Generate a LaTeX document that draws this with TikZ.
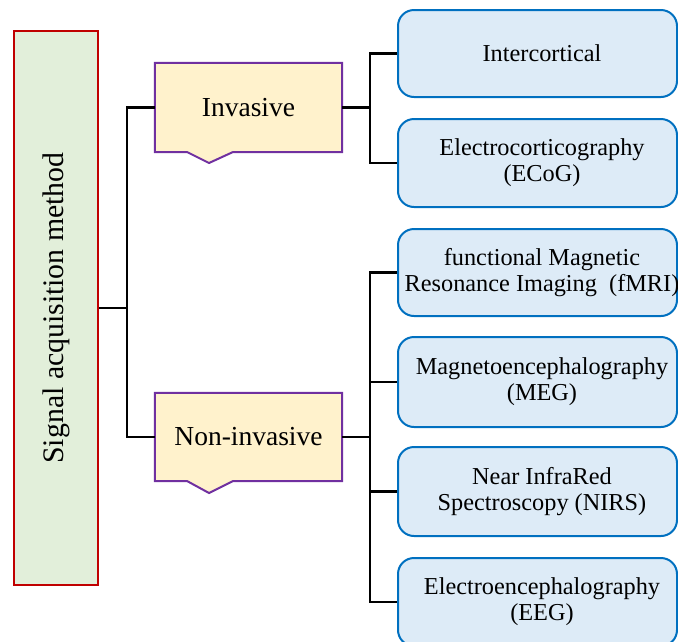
\documentclass[tikz,border=0pt]{standalone}
\usepackage{fontspec}
\setmainfont{Liberation Serif}
\newfontfamily\tnr{Liberation Serif}
\definecolor{mainfill}{HTML}{E2EFDA}
\definecolor{mainline}{HTML}{C00000}
\definecolor{catfill}{HTML}{FFF2CC}
\definecolor{catline}{HTML}{7030A0}
\definecolor{leaffill}{HTML}{DDEBF7}
\definecolor{leafline}{HTML}{0070C0}
\newcommand\leaffont{\tnr\fontsize{24.3}{26}\selectfont}
\newcommand\catfont{\tnr\fontsize{27.5}{30}\selectfont}
\newcommand\rootfont{\tnr\fontsize{29.8}{32}\selectfont}
\tikzset{
  rootbox/.style={draw=mainline, fill=mainfill, line width=2pt, minimum width=84pt, minimum height=554pt, inner sep=0pt},
  catbox/.style={fill=catfill, draw=none, minimum width=187pt, minimum height=88pt, inner sep=0pt, font=\catfont},
  catedge/.style={draw=catline, line width=2pt, line join=miter},
  leafbox/.style={draw=leafline, fill=leaffill, line width=2pt, rounded corners=16pt, minimum width=279pt, minimum height=88pt, inner sep=0pt},
  leaflbl/.style={font=\leaffont, align=center, xshift=4.5pt, inner sep=0pt},
  conn/.style={draw=black, line width=2.2pt}
}
\begin{document}
\begin{tikzpicture}[x=1pt,y=-1pt]
\useasboundingbox (0,0) rectangle (678,641);
\clip (0,0) rectangle (678,641);

% root
\node[rootbox, label={[rotate=90, font=\rootfont, inner sep=0pt]center:Signal acquisition method}] (root) at (56,308) {};

% categories
\node[catbox, minimum height=89pt] (inv) at (248.5,107.5) {Invasive};
\fill[catfill] (233,152) -- (209,163) -- (187,152) -- cycle;
\draw[catedge] (inv.south west) -- (inv.north west) -- (inv.north east) -- (inv.south east) -- (233,152) -- (209,163) -- (187,152) -- cycle;

\node[catbox] (non) at (248.5,437) {Non-invasive};
\fill[catfill] (233,481) -- (209,493) -- (187,481) -- cycle;
\draw[catedge] (non.south west) -- (non.north west) -- (non.north east) -- (non.south east) -- (233,481) -- (209,493) -- (187,481) -- cycle;

% leaves
\node[leafbox, minimum height=87pt, label={[leaflbl]center:Intercortical}] (b1) at (537.5,53.5) {};
\node[leafbox, label={[leaflbl]center:{Electrocorticography\\(ECoG)}}] (b2) at (537.5,163) {};
\node[leafbox, minimum height=87pt, label={[leaflbl]center:{functional Magnetic\\Resonance Imaging~~(fMRI)}}] (b3) at (537.5,272.5) {};
\node[leafbox, minimum height=90pt, label={[leaflbl]center:{Magnetoencephalography\\(MEG)}}] (b4) at (537.5,382) {};
\node[leafbox, minimum height=89pt, label={[leaflbl]center:{Near InfraRed\\Spectroscopy (NIRS)}}] (b5) at (537.5,491.5) {};
\node[leafbox, label={[leaflbl]center:{Electroencephalography\\(EEG)}}] (b6) at (537.5,602) {};

% junctions
\coordinate (j0) at (127,308);
\coordinate (j1) at (370,107.5);
\coordinate (j2) at (370,437);

% connectors
\draw[conn] (root.east) -- (j0);
\draw[conn] (inv.west) -| (j0) |- (non.west);
\draw[conn] (inv.east) -- (j1);
\draw[conn] (b1.west) -| (j1) |- (b2.west);
\draw[conn] (non.east) -- (j2);
\draw[conn] (b3.west) -| (j2) |- (b6.west);
\draw[conn] (j2 |- b4.west) -- (b4.west);
\draw[conn] (j2 |- b5.west) -- (b5.west);
\end{tikzpicture}
\end{document}
